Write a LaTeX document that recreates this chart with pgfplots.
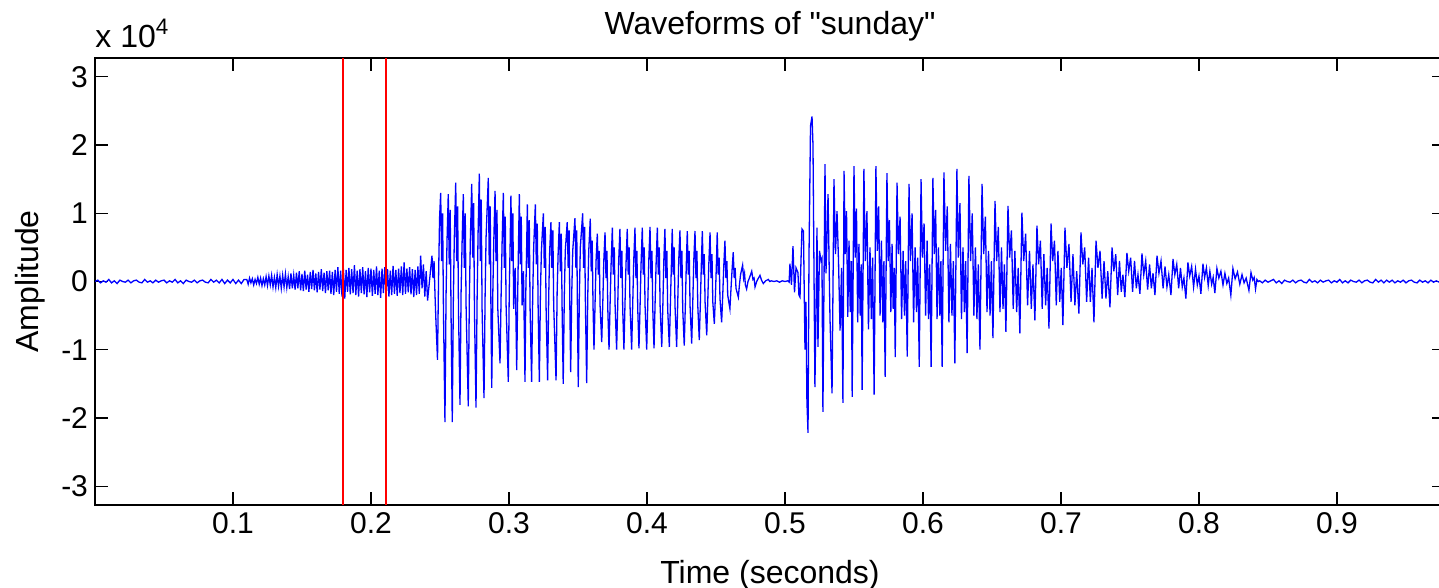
\documentclass[border=0pt]{standalone}
\usepackage{pgfplots}
\pgfplotsset{compat=1.18}
\usepackage{fontspec}
\setmainfont{Liberation Sans}
\newfontfamily\qfont{Liberation Sans}[Ligatures=TeXOff]
\newcommand{\fs}{\fontsize{15}{18}\selectfont}
\newcommand{\fl}{\fontsize{16}{19}\selectfont}
\begin{document}
\begin{tikzpicture}
\begin{axis}[
  scale only axis, width=675pt, height=223.5pt,
  xmin=0, xmax=0.9783, ymin=-3.2768, ymax=3.2768,
  xtick={0.1,0.2,0.3,0.4,0.5,0.6,0.7,0.8,0.9},
  xticklabels={0.1,0.2,0.3,0.4,0.5,0.6,0.7,0.8,0.9},
  ytick={-3,-2,-1,0,1,2,3},
  yticklabels={-3,-2,-1,0,1,2,3},
  tick align=inside, major tick length=6.5pt,
  axis line style={line width=0.6pt},
  every tick/.style={black, line width=0.6pt},
  ticklabel style={font=\fs},
  /pgf/number format/assume math mode=true,
  title={\qfont Waveforms of "sunday"},
  every axis title/.style={at={(axis description cs:0.5,1)}, yshift=16pt, anchor=center, font=\fl},
  xlabel={Time (seconds)},
  every axis x label/.style={at={(axis description cs:0.5,0)}, yshift=-35pt, anchor=center, font=\fl},
  ylabel={Amplitude},
  every axis y label/.style={at={(axis description cs:-0.0481,0.5)}, anchor=center, rotate=90, font=\fl},
]
\addplot[blue, line width=0.65pt] coordinates {
(0.000,0.00) (0.002,0.02) (0.004,-0.02) (0.006,0.01) (0.008,-0.01) (0.010,0.03) (0.012,-0.02) (0.014,0.01) (0.016,-0.03) (0.018,0.02)
(0.020,0.00) (0.022,-0.01) (0.024,0.02) (0.026,-0.02) (0.028,0.01) (0.030,0.02) (0.032,-0.01) (0.034,-0.02) (0.036,0.03) (0.038,-0.01)
(0.040,0.01) (0.042,-0.02) (0.044,0.02) (0.046,-0.01) (0.048,0.01) (0.050,0.02) (0.052,-0.02) (0.054,0.01) (0.056,-0.01) (0.058,0.03)
(0.060,-0.02) (0.062,0.01) (0.064,-0.03) (0.066,0.02) (0.068,0.00) (0.070,-0.01) (0.072,0.02) (0.074,-0.02) (0.076,0.01) (0.078,0.02)
(0.080,-0.01) (0.082,-0.02) (0.084,0.03) (0.086,-0.01) (0.088,0.02) (0.090,-0.02) (0.092,0.03) (0.094,-0.03) (0.096,0.02) (0.098,-0.02)
(0.100,0.03) (0.102,-0.03) (0.104,0.02) (0.106,-0.03) (0.108,0.03)
(0.110,0.03) (0.111,-0.04) (0.112,0.05) (0.113,-0.02) (0.114,0.04) (0.115,-0.05) (0.116,0.03) (0.117,-0.03) (0.118,0.06) (0.119,-0.04)
(0.120,0.05) (0.121,-0.06) (0.122,0.04) (0.123,-0.05) (0.124,0.07) (0.125,-0.06) (0.126,0.08) (0.127,-0.05) (0.128,0.09) (0.129,-0.08)
(0.130,0.06) (0.131,-0.09) (0.132,0.10) (0.133,-0.07) (0.134,0.08) (0.135,-0.10) (0.136,0.09) (0.137,-0.08) (0.138,0.11) (0.139,-0.09)
(0.140,0.07) (0.141,-0.11) (0.142,0.12) (0.143,-0.10) (0.144,0.09) (0.145,-0.12) (0.146,0.13) (0.147,-0.10) (0.148,0.15) (0.149,-0.13)
(0.150,0.11) (0.151,-0.14) (0.152,0.16) (0.153,-0.12) (0.154,0.10) (0.155,-0.15) (0.156,0.14) (0.157,-0.11) (0.158,0.17) (0.159,-0.13)
(0.160,0.12) (0.161,-0.16) (0.162,0.14) (0.163,-0.12) (0.164,0.18) (0.165,-0.14) (0.166,0.13) (0.167,-0.17) (0.168,0.15) (0.169,-0.13)
(0.170,0.16) (0.171,-0.18) (0.172,0.14) (0.173,-0.20) (0.174,0.17) (0.175,-0.15) (0.176,0.21) (0.177,-0.18) (0.178,0.16) (0.179,-0.22)
(0.180,0.19) (0.181,-0.25) (0.182,0.17) (0.183,-0.15) (0.184,0.20) (0.185,-0.19) (0.186,0.18) (0.187,-0.17) (0.188,0.24) (0.189,-0.20)
(0.190,0.16) (0.191,-0.22) (0.192,0.18) (0.193,-0.17) (0.194,0.21) (0.195,-0.19) (0.196,0.15) (0.197,-0.23) (0.198,0.20) (0.199,-0.16)
(0.200,0.19) (0.201,-0.21) (0.202,0.17) (0.203,-0.18) (0.204,0.22) (0.205,-0.20) (0.206,0.16) (0.207,-0.24) (0.208,0.19) (0.209,-0.17)
(0.210,0.21) (0.211,-0.19) (0.212,0.18) (0.213,-0.22) (0.214,0.16) (0.215,-0.20) (0.216,0.23) (0.217,-0.18) (0.218,0.17) (0.219,-0.21)
(0.220,0.19) (0.221,-0.17) (0.222,0.22) (0.223,-0.20) (0.224,0.28) (0.225,-0.18) (0.226,0.19) (0.227,-0.16) (0.228,0.21) (0.229,-0.19)
(0.230,0.18) (0.231,-0.23) (0.232,0.17) (0.233,-0.20) (0.234,0.22) (0.235,-0.18) (0.236,0.38) (0.237,-0.10) (0.238,0.25) (0.239,-0.22)
(0.240,0.15) (0.241,-0.28)
(0.2442,0.38) (0.2449,0.05) (0.2457,0.30) (0.2464,-0.20) (0.2471,-0.60) (0.2482,-1.15) (0.2490,0.10) (0.2497,0.93)
(0.2505,1.30) (0.2512,0.30) (0.2519,1.00) (0.2525,-0.40) (0.2536,-2.06) (0.2544,-0.20) (0.2551,0.60)
(0.2560,1.28) (0.2567,0.25) (0.2574,1.05) (0.2580,-0.45) (0.2589,-2.06) (0.2597,-0.25) (0.2604,0.65)
(0.2614,1.45) (0.2621,0.30) (0.2628,1.10) (0.2634,-0.40) (0.2645,-1.81) (0.2653,-0.15) (0.2660,0.55)
(0.2669,1.28) (0.2676,0.20) (0.2683,1.00) (0.2689,-0.35) (0.2705,-1.83) (0.2713,-0.20) (0.2720,0.60)
(0.2730,1.43) (0.2737,0.35) (0.2744,1.15) (0.2750,-0.45) (0.2761,-1.85) (0.2769,-0.25) (0.2776,0.70)
(0.2785,1.58) (0.2792,0.30) (0.2799,1.20) (0.2805,-0.40) (0.2819,-1.71) (0.2827,-0.20) (0.2834,0.65)
(0.2850,1.52) (0.2857,0.25) (0.2864,1.10) (0.2869,-0.35) (0.2875,-1.56) (0.2883,-0.15) (0.2890,0.60)
(0.2899,1.33) (0.2906,0.30) (0.2913,1.05) (0.2919,-0.40) (0.2935,-1.20) (0.2943,-0.20) (0.2950,0.55)
(0.2959,1.30) (0.2966,0.20) (0.2973,0.95) (0.2979,-0.35) (0.2995,-1.47) (0.3002,-0.15) (0.3008,0.50)
(0.3014,1.26) (0.3021,0.30) (0.3028,1.00) (0.3034,-0.40) (0.3045,0.20) (0.3056,-1.30) (0.3063,-0.20) (0.3069,0.55)
(0.3075,1.28) (0.3082,0.25) (0.3089,0.95) (0.3095,-0.35) (0.3105,0.15) (0.3116,-1.47) (0.3122,-0.15) (0.3128,0.50)
(0.3133,1.13) (0.3140,0.20) (0.3147,0.90) (0.3153,-0.40) (0.3164,-1.47) (0.3172,-0.20) (0.3179,0.50)
(0.3191,1.13) (0.3198,0.25) (0.3205,0.85) (0.3211,-0.35) (0.3220,-1.47) (0.3228,-0.15) (0.3235,0.45)
(0.3249,1.00) (0.3256,0.20) (0.3263,0.80) (0.3269,-0.40) (0.3280,-1.45) (0.3288,-0.20) (0.3295,0.45)
(0.3304,0.87) (0.3311,0.20) (0.3318,0.75) (0.3324,-0.35) (0.3341,-1.45) (0.3349,-0.15) (0.3356,0.40)
(0.3365,0.87) (0.3372,0.15) (0.3379,0.70) (0.3385,-0.40) (0.3393,-1.50) (0.3401,-0.20) (0.3408,0.45)
(0.3422,0.87) (0.3429,0.20) (0.3436,0.75) (0.3441,-0.35) (0.3447,-1.33) (0.3455,-0.15) (0.3462,0.45)
(0.3478,0.93) (0.3485,0.20) (0.3491,0.75) (0.3496,-0.40) (0.3502,-1.55) (0.3510,-0.20) (0.3517,0.50)
(0.3534,1.00) (0.3541,0.20) (0.3548,0.80) (0.3554,-0.35) (0.3563,-1.49) (0.3571,-0.20) (0.3578,0.45)
(0.3589,0.92) (0.3596,0.15) (0.3603,0.60) (0.3609,-0.35) (0.3616,-1.00) (0.3624,-0.30) (0.3631,0.30)
(0.3640,0.70) (0.3647,0.10) (0.3654,0.45) (0.3660,-0.35) (0.3672,-0.89) (0.3680,-0.30) (0.3687,0.30)
(0.3696,0.72) (0.3703,0.05) (0.3710,0.45) (0.3716,-0.40) (0.3725,-1.00) (0.3733,-0.30) (0.3740,0.25)
(0.3749,0.79) (0.3756,0.10) (0.3763,0.50) (0.3769,-0.35) (0.3780,-1.00) (0.3788,-0.35) (0.3795,0.30)
(0.3804,0.77) (0.3811,0.05) (0.3818,0.45) (0.3824,-0.40) (0.3833,-1.00) (0.3841,-0.30) (0.3848,0.25)
(0.3857,0.77) (0.3864,0.10) (0.3871,0.50) (0.3877,-0.35) (0.3889,-1.00) (0.3897,-0.30) (0.3904,0.30)
(0.3913,0.79) (0.3920,0.05) (0.3927,0.45) (0.3933,-0.40) (0.3942,-0.98) (0.3950,-0.35) (0.3957,0.25)
(0.3966,0.79) (0.3973,0.10) (0.3980,0.50) (0.3986,-0.35) (0.3998,-1.00) (0.4006,-0.30) (0.4013,0.30)
(0.4022,0.80) (0.4029,0.05) (0.4036,0.45) (0.4042,-0.40) (0.4051,-0.98) (0.4059,-0.30) (0.4066,0.25)
(0.4075,0.79) (0.4082,0.10) (0.4089,0.50) (0.4095,-0.35) (0.4107,-0.96) (0.4115,-0.35) (0.4122,0.30)
(0.4130,0.77) (0.4137,0.05) (0.4144,0.45) (0.4150,-0.40) (0.4162,-0.96) (0.4170,-0.30) (0.4177,0.25)
(0.4183,0.77) (0.4190,0.10) (0.4197,0.50) (0.4203,-0.35) (0.4215,-0.96) (0.4223,-0.30) (0.4230,0.30)
(0.4239,0.75) (0.4246,0.05) (0.4253,0.45) (0.4259,-0.40) (0.4270,-0.94) (0.4278,-0.35) (0.4285,0.25)
(0.4292,0.74) (0.4299,0.10) (0.4306,0.45) (0.4312,-0.35) (0.4324,-0.91) (0.4332,-0.30) (0.4339,0.30)
(0.4348,0.74) (0.4355,0.05) (0.4362,0.45) (0.4368,-0.35) (0.4379,-0.86) (0.4387,-0.30) (0.4394,0.25)
(0.4401,0.74) (0.4408,0.10) (0.4415,0.40) (0.4421,-0.30) (0.4433,-0.79) (0.4441,-0.25) (0.4448,0.25)
(0.4457,0.72) (0.4464,0.05) (0.4471,0.40) (0.4477,-0.30) (0.4488,-0.62) (0.4496,-0.20) (0.4503,0.25)
(0.4509,0.72) (0.4516,0.10) (0.4523,0.35) (0.4529,-0.25) (0.4541,-0.60) (0.4549,-0.20) (0.4556,0.20)
(0.4565,0.60) (0.4572,0.05) (0.4579,0.30) (0.4585,-0.20) (0.4601,-0.40) (0.4609,-0.10) (0.4616,0.15)
(0.4625,0.43) (0.4632,0.05) (0.4639,0.20) (0.4645,-0.10) (0.4662,-0.23) (0.4670,-0.05) (0.4678,0.10)
(0.4693,0.24) (0.4700,0.05) (0.4707,0.12) (0.4713,-0.05) (0.4722,-0.11) (0.4732,0.00) (0.4742,0.05)
(0.4759,0.15) (0.4768,0.03) (0.4776,0.05) (0.4783,-0.08) (0.4795,0.00) (0.4805,0.04)
(0.4819,0.09) (0.4830,0.02) (0.4843,-0.03) (0.4860,0.01) (0.4879,0.03) (0.4890,0.00) (0.4900,0.01)
(0.4920,0.00) (0.4940,0.01) (0.4960,-0.01) (0.4980,0.01) (0.5000,0.00) (0.5020,0.01) (0.5030,-0.01)
(0.5036,0.26) (0.5047,-0.05) (0.5058,0.52) (0.5069,-0.16) (0.5080,0.20) (0.5094,0.13) (0.5101,-0.20) (0.5109,-0.23)
(0.5116,0.30) (0.5123,0.77) (0.5134,0.74) (0.5145,-1.00) (0.5152,-0.30) (0.5159,-1.76) (0.5167,-2.22) (0.5174,0.36)
(0.5185,2.28) (0.5196,2.42) (0.5203,2.00) (0.5217,-1.55) (0.5225,-0.40) (0.5232,0.79) (0.5239,-0.96) (0.5250,0.45)
(0.5261,0.30) (0.5268,0.34) (0.5275,-1.91) (0.5290,1.72)
(0.5297,0.12) (0.5304,0.60) (0.5312,1.28) (0.5326,-0.52) (0.5341,-1.64) (0.5355,1.50)
(0.5366,0.40) (0.5377,1.03) (0.5388,0.30) (0.5399,-0.72) (0.5410,0.20) (0.5420,-1.78) (0.5428,1.62)
(0.5437,0.40) (0.5446,1.03) (0.5455,-0.52) (0.5464,0.60) (0.5473,-0.45) (0.5481,0.30) (0.5487,-1.69) (0.5500,1.69)
(0.5509,0.35) (0.5518,1.07) (0.5527,-0.60) (0.5536,0.55) (0.5545,-0.50) (0.5553,0.25) (0.5559,-1.59) (0.5572,1.65)
(0.5582,0.30) (0.5594,1.03) (0.5605,-0.70) (0.5616,0.50) (0.5626,-0.55) (0.5635,0.35) (0.5646,-1.66) (0.5659,1.69)
(0.5669,0.45) (0.5679,1.10) (0.5689,-0.50) (0.5699,0.60) (0.5709,-0.60) (0.5717,0.30) (0.5726,-1.40) (0.5739,1.59)
(0.5748,0.30) (0.5757,0.90) (0.5767,-0.45) (0.5776,0.55) (0.5784,-0.40) (0.5792,0.20) (0.5799,-1.11) (0.5812,1.45)
(0.5822,0.40) (0.5834,0.95) (0.5845,-0.55) (0.5856,0.45) (0.5866,-0.50) (0.5875,0.30) (0.5886,-1.10) (0.5899,1.43)
(0.5909,0.30) (0.5921,1.00) (0.5932,-0.60) (0.5943,0.50) (0.5953,-0.45) (0.5962,0.35) (0.5973,-1.25) (0.5986,1.50)
(0.5996,0.35) (0.6008,0.85) (0.6019,-0.50) (0.6030,0.60) (0.6040,-0.55) (0.6049,0.25) (0.6059,-1.25) (0.6072,1.52)
(0.6082,0.40) (0.6092,1.05) (0.6102,-0.55) (0.6112,0.50) (0.6122,-0.50) (0.6130,0.30) (0.6139,-1.25) (0.6152,1.60)
(0.6164,0.45) (0.6176,1.10) (0.6188,-0.60) (0.6199,0.55) (0.6210,-0.50) (0.6220,0.30) (0.6231,-1.20) (0.6246,1.65)
(0.6256,0.35) (0.6268,1.15) (0.6279,-0.55) (0.6290,0.50) (0.6300,-0.45) (0.6309,0.30) (0.6320,-1.05) (0.6333,1.55)
(0.6345,0.30) (0.6357,1.00) (0.6369,-0.50) (0.6380,0.50) (0.6391,-0.55) (0.6401,0.25) (0.6413,-1.00) (0.6428,1.43)
(0.6440,0.40) (0.6452,0.95) (0.6464,-0.45) (0.6475,0.45) (0.6486,-0.50) (0.6496,0.30) (0.6507,-0.83) (0.6522,1.18)
(0.6534,0.30) (0.6546,0.80) (0.6558,-0.45) (0.6569,0.50) (0.6580,-0.40) (0.6590,0.25) (0.6601,-0.74) (0.6616,1.11)
(0.6628,0.35) (0.6641,0.75) (0.6654,-0.40) (0.6666,0.45) (0.6679,-0.45) (0.6690,0.20) (0.6702,-0.76) (0.6717,1.01)
(0.6730,0.30) (0.6744,0.70) (0.6758,-0.35) (0.6772,0.45) (0.6785,-0.40) (0.6797,0.25) (0.6811,-0.57) (0.6826,0.82)
(0.6838,0.25) (0.6851,0.60) (0.6864,-0.40) (0.6876,0.40) (0.6889,-0.35) (0.6900,0.20) (0.6913,-0.69) (0.6928,0.85)
(0.6940,0.30) (0.6953,0.60) (0.6966,-0.35) (0.6978,0.45) (0.6991,-0.30) (0.7002,0.20) (0.7014,-0.64) (0.7029,0.79)
(0.7043,0.20) (0.7058,0.55) (0.7073,-0.30) (0.7087,0.40) (0.7101,-0.35) (0.7114,0.15) (0.7130,-0.47) (0.7145,0.72)
(0.7158,0.25) (0.7172,0.50) (0.7186,-0.30) (0.7200,0.35) (0.7213,-0.30) (0.7225,0.20) (0.7239,-0.60) (0.7254,0.60)
(0.7268,0.20) (0.7283,0.45) (0.7298,-0.25) (0.7312,0.30) (0.7326,-0.25) (0.7339,0.15) (0.7355,-0.38) (0.7370,0.50)
(0.7383,0.15) (0.7397,0.40) (0.7411,-0.20) (0.7424,0.30) (0.7437,-0.15) (0.7449,0.10) (0.7463,-0.23) (0.7478,0.42)
(0.7491,0.15) (0.7505,0.35) (0.7519,-0.15) (0.7533,0.30) (0.7546,-0.10) (0.7558,0.10) (0.7572,-0.18) (0.7587,0.41)
(0.7600,0.10) (0.7614,0.30) (0.7628,-0.12) (0.7642,0.25) (0.7655,-0.10) (0.7667,0.12) (0.7681,-0.20) (0.7696,0.38)
(0.7710,0.12) (0.7725,0.30) (0.7740,-0.10) (0.7754,0.22) (0.7768,-0.08) (0.7781,0.10) (0.7797,-0.20) (0.7812,0.33)
(0.7825,0.10) (0.7839,0.25) (0.7853,-0.10) (0.7866,0.20) (0.7879,-0.08) (0.7891,0.05) (0.7905,-0.25) (0.7920,0.28)
(0.7933,0.08) (0.7947,0.22) (0.7961,-0.08) (0.7975,0.18) (0.7988,-0.05) (0.8000,0.08) (0.8014,-0.18) (0.8029,0.26)
(0.8041,0.06) (0.8054,0.20) (0.8067,-0.06) (0.8079,0.15) (0.8092,-0.04) (0.8103,0.06) (0.8115,-0.17) (0.8130,0.19)
(0.8144,0.05) (0.8159,0.15) (0.8174,-0.05) (0.8188,0.12) (0.8202,-0.03) (0.8215,0.05) (0.8231,-0.20) (0.8246,0.19)
(0.8262,0.04) (0.8279,0.14) (0.8296,-0.04) (0.8312,0.10) (0.8327,-0.02) (0.8342,0.05) (0.8362,-0.13) (0.8377,0.13)
(0.8390,0.02) (0.8400,0.06) (0.8410,-0.11) (0.8420,0.03) (0.8430,0.00)
(0.844,0.01) (0.846,-0.02) (0.848,0.02) (0.850,-0.01) (0.852,0.01) (0.854,0.03) (0.856,-0.02) (0.858,0.01) (0.860,-0.03) (0.862,0.02)
(0.864,0.00) (0.866,-0.01) (0.868,0.02) (0.870,-0.02) (0.872,0.01) (0.874,0.02) (0.876,-0.01) (0.878,-0.02) (0.880,0.03) (0.882,-0.01)
(0.884,0.01) (0.886,-0.02) (0.888,0.02) (0.890,-0.01) (0.892,0.01) (0.894,0.02) (0.896,-0.02) (0.898,0.01) (0.900,-0.01) (0.902,0.03)
(0.904,-0.02) (0.906,0.01) (0.908,-0.02) (0.910,0.02) (0.912,0.00) (0.914,-0.01) (0.916,0.02) (0.918,-0.02) (0.920,0.01) (0.922,0.02)
(0.924,-0.01) (0.926,-0.02) (0.928,0.03) (0.930,-0.01) (0.932,0.02) (0.934,-0.02) (0.936,0.02) (0.938,-0.01) (0.940,0.02) (0.942,-0.02)
(0.944,0.01) (0.946,-0.01) (0.948,0.02) (0.950,-0.02) (0.952,0.01) (0.954,0.02) (0.956,-0.01) (0.958,-0.02) (0.960,0.02) (0.962,-0.01)
(0.964,0.01) (0.966,-0.02) (0.968,0.02) (0.970,-0.01) (0.972,0.01) (0.974,-0.01) (0.976,0.01) (0.978,0.00)
};
\addplot[red, line width=0.75pt] coordinates {(0.1797,-3.2768) (0.1797,3.2768)};
\addplot[red, line width=0.75pt] coordinates {(0.2109,-3.2768) (0.2109,3.2768)};
\coordinate (tl) at (rel axis cs:0,1);
\end{axis}
\node[anchor=south west, inner sep=0pt, font=\fl] at ([yshift=5pt]tl) {x 10\textsuperscript{4}};
\pgfresetboundingbox
\path (-47.5pt,-41.5pt) rectangle (672pt,252.5pt);
\end{tikzpicture}
\end{document}
